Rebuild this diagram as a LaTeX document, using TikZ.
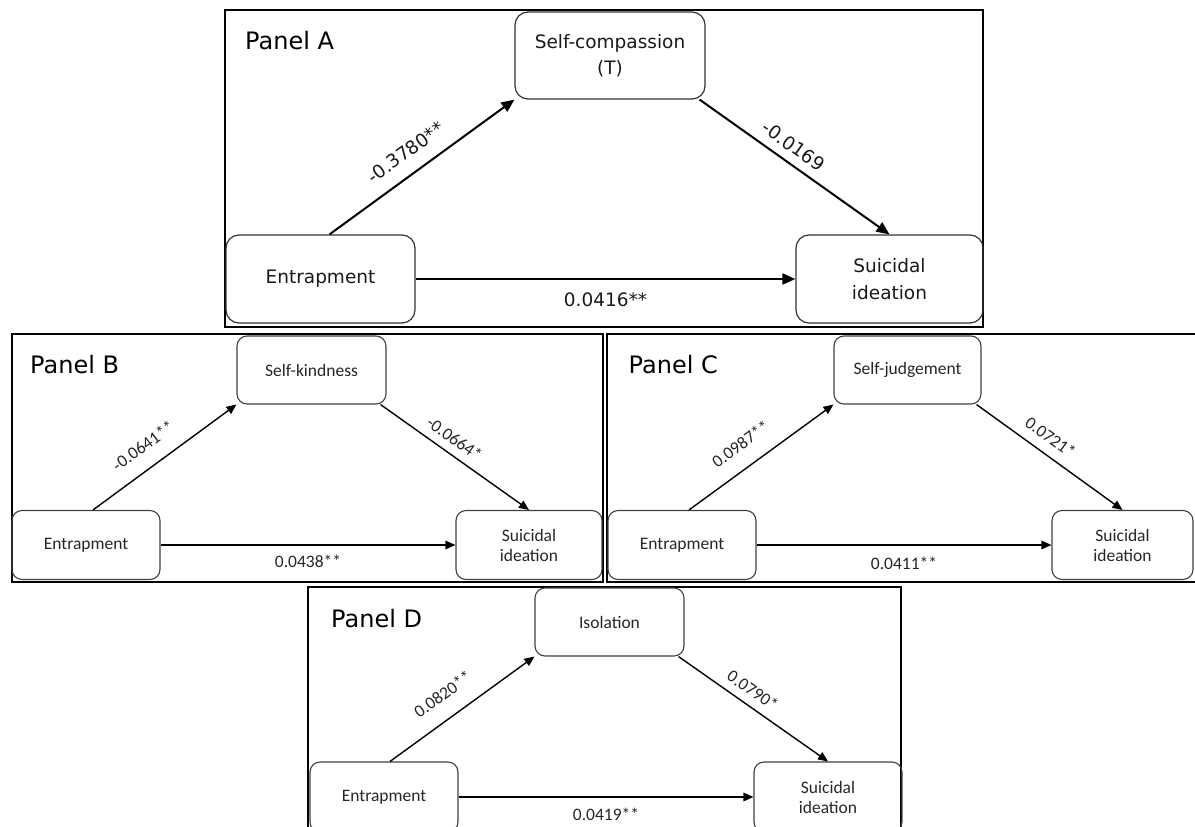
\documentclass[tikz,border=0pt]{standalone}
\usepackage{fontspec}
\setmainfont{DejaVu Sans}
\newfontfamily\calfont{Carlito}
\usetikzlibrary{arrows.meta}

\begin{document}
\begin{tikzpicture}[x=1pt,y=-1pt,
  frame/.style={draw=black,line width=1.8pt},
  ptitle/.style={anchor=base west,inner sep=0pt,font=\fontsize{24}{28}\selectfont,text=black},
  boxA/.style={draw=black!80,line width=1.2pt,rounded corners=13pt,minimum width=189pt,minimum height=88pt,align=center,inner sep=2pt,font=\fontsize{18.5}{26.5}\selectfont,text=black!90},
  boxS/.style={draw=black!75,line width=1.1pt,rounded corners=10pt,minimum width=148pt,minimum height=69pt,align=center,inner sep=2pt,font=\calfont\fontsize{17.5}{20}\selectfont,text=black!85},
  arrA/.style={line width=2pt,-{Triangle[length=13pt,width=11pt]}},
  arrS/.style={line width=1.4pt,-{Triangle[length=10pt,width=8.5pt]}},
  labA/.style={inner sep=0pt,font=\fontsize{18.5}{22}\selectfont,text=black!90},
  labS/.style={inner sep=0pt,font=\calfont\fontsize{17.5}{20}\selectfont,text=black!85},
]
\useasboundingbox (0,0) rectangle (1195,827);

% ---------------- Panel A ----------------
\draw[frame] (225,10) rectangle (983,327);
\node[ptitle] (tA) at (245,49) {Panel A};
\node[boxA,minimum width=190pt,minimum height=87pt] (scA) at (610,55.5) {Self-compassion\\(T)};
\node[boxA] (entA) at (320.5,279) {Entrapment};
\node[boxA,minimum width=187pt] (siA) at (889.5,279) {Suicidal\\ideation};
\draw[arrA] ([xshift=9pt]entA.north) -- node[labA,pos=0.48,sloped,above=13.5pt] {-0.3780**} (scA.south west);
\draw[arrA] ([xshift=-6pt]scA.south east) -- node[labA,pos=0.445,sloped,above=8.5pt] {-0.0169} (siA.north);
\draw[arrA] (entA.east) -- node[labA,pos=0.5,below=13pt] {0.0416**} (siA.west);

% ---------------- Panel B ----------------
\draw[frame] (12,334) rectangle (603,582);
\node[ptitle] (tB) at (30,373) {Panel B};
\node[boxS,minimum width=149pt,minimum height=68pt] (skB) at (311.5,370) {Self-kindness};
\node[boxS] (entB) at (86,545) {Entrapment};
\node[boxS,minimum width=146pt] (siB) at (529,545) {Suicidal\\ideation};
\draw[arrS] ([xshift=7pt]entB.north) -- node[labS,pos=0.44,sloped,above=15pt] {-0.0641**} (skB.south west);
\draw[arrS] ([xshift=-6pt]skB.south east) -- node[labS,pos=0.44,sloped,above=8pt] {-0.0664*} (siB.north);
\draw[arrS] (entB.east) -- node[labS,pos=0.5,below=9.5pt] {0.0438**} (siB.west);

% ---------------- Panel C ----------------
\draw[frame] (607,334) rectangle (1200,582);
\node[ptitle] (tC) at (628.5,373) {Panel C};
\node[boxS,minimum width=147pt,minimum height=68pt] (sjC) at (907.5,370) {Self-judgement};
\node[boxS] (entC) at (682,545) {Entrapment};
\node[boxS,minimum width=141pt] (siC) at (1122.5,545) {Suicidal\\ideation};
\draw[arrS] ([xshift=7pt]entC.north) -- node[labS,pos=0.45,sloped,above=16pt] {0.0987**} (sjC.south west);
\draw[arrS] ([xshift=-5pt]sjC.south east) -- node[labS,pos=0.44,sloped,above=10pt] {0.0721*} (siC.north);
\draw[arrS] (entC.east) -- node[labS,pos=0.5,below=11.5pt] {0.0411**} (siC.west);

% ---------------- Panel D ----------------
\draw[frame] (308,587) rectangle (901,840);
\node[ptitle] (tD) at (331,627) {Panel D};
\node[boxS,minimum width=149pt,minimum height=68pt] (isD) at (609.5,622) {Isolation};
\node[boxS,minimum height=70pt] (entD) at (384,797) {Entrapment};
\node[boxS,minimum height=70pt] (siD) at (828,797) {Suicidal\\ideation};
\draw[arrS] ([xshift=6pt]entD.north) -- node[labS,pos=0.46,sloped,above=16.5pt] {0.0820**} (isD.south west);
\draw[arrS] ([xshift=-6pt]isD.south east) -- node[labS,pos=0.44,sloped,above=8pt] {0.0790*} (siD.north);
\draw[arrS] (entD.east) -- node[labS,pos=0.5,below=10.5pt] {0.0419**} (siD.west);
\end{tikzpicture}
\end{document}
